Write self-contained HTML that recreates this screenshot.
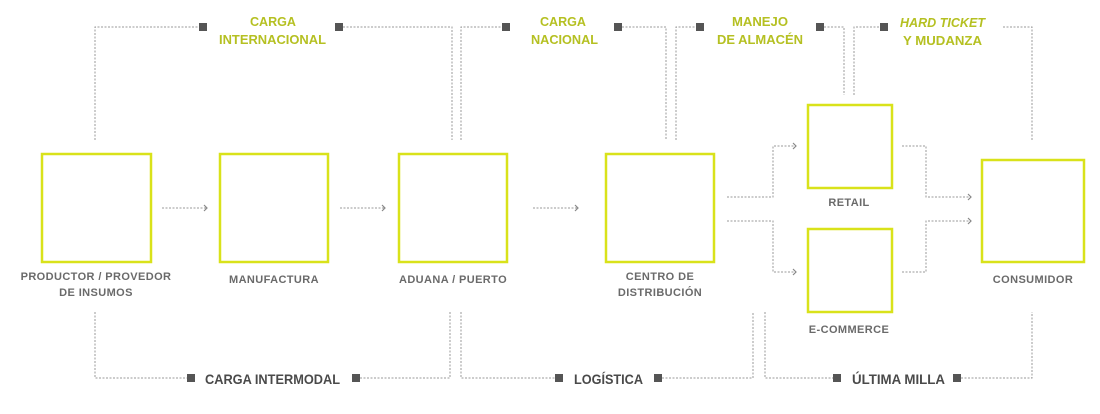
<!DOCTYPE html>
<html><head><meta charset="utf-8"><style>
html,body{margin:0;padding:0;background:#fff;}
svg{display:block;}
.b{fill:none;stroke:#d9e21a;stroke-width:2.5;}
.d{fill:none;stroke:#9a9a9a;stroke-width:1;stroke-dasharray:2 1.5;}
.a{fill:none;stroke:#888;stroke-width:1.2;}
.sq{fill:#555;}
.lb{font-family:"Liberation Sans",sans-serif;font-weight:bold;font-size:11px;fill:#6a6a6a;text-anchor:middle;letter-spacing:0.4px;}
.tg{font-family:"Liberation Sans",sans-serif;font-weight:bold;font-size:13px;fill:#b5c022;}
.bt{font-family:"Liberation Sans",sans-serif;font-weight:bold;font-size:14px;fill:#4a4a4a;}
</style></head><body>
<svg width="1100" height="414" viewBox="0 0 1100 414">
<rect class="b" x="42" y="154" width="109" height="108"/>
<rect class="b" x="220" y="154" width="108" height="108"/>
<rect class="b" x="399" y="154" width="108" height="108"/>
<rect class="b" x="606" y="154" width="108" height="108"/>
<rect class="b" x="808" y="105" width="84" height="83"/>
<rect class="b" x="808" y="229" width="84" height="83"/>
<rect class="b" x="982" y="160" width="102" height="102"/>
<text class="lb" x="96" y="280">PRODUCTOR / PROVEDOR</text>
<text class="lb" x="96" y="296">DE INSUMOS</text>
<text class="lb" x="274" y="283">MANUFACTURA</text>
<text class="lb" x="453" y="283">ADUANA / PUERTO</text>
<text class="lb" x="660" y="280">CENTRO DE</text>
<text class="lb" x="660" y="296">DISTRIBUCIÓN</text>
<text class="lb" x="849" y="206">RETAIL</text>
<text class="lb" x="849" y="333">E-COMMERCE</text>
<text class="lb" x="1033" y="283">CONSUMIDOR</text>
<path class="d" d="M162 208H207M340 208H385M533 208H578"/>
<path class="a" d="M204 205L207 208L204 211M382 205L385 208L382 211M575 205L578 208L575 211"/>
<path class="d" d="M727 197H773V146H796M727 221H773V272H796"/>
<path class="a" d="M793 143L796 146L793 149M793 269L796 272L793 275"/>
<path class="d" d="M902 146H926V197H971M902 272H926V221H971"/>
<path class="a" d="M968 194L971 197L968 200M968 218L971 221L968 224"/>
<!-- top -->
<path class="d" d="M95 140V27H199M343 27H452V140"/>
<rect class="sq" x="199" y="23" width="8" height="8"/><rect class="sq" x="335" y="23" width="8" height="8"/>
<text class="tg" x="250" y="26" textLength="46" lengthAdjust="spacingAndGlyphs">CARGA</text>
<text class="tg" x="219" y="44" textLength="107" lengthAdjust="spacingAndGlyphs">INTERNACIONAL</text>
<path class="d" d="M461 140V27H502M622 27H666V140"/>
<rect class="sq" x="502" y="23" width="8" height="8"/><rect class="sq" x="614" y="23" width="8" height="8"/>
<text class="tg" x="540" y="26" textLength="46" lengthAdjust="spacingAndGlyphs">CARGA</text>
<text class="tg" x="531" y="44" textLength="67" lengthAdjust="spacingAndGlyphs">NACIONAL</text>
<path class="d" d="M676 140V27H696M824 27H844V95"/>
<rect class="sq" x="696" y="23" width="8" height="8"/><rect class="sq" x="816" y="23" width="8" height="8"/>
<text class="tg" x="732" y="26" textLength="56" lengthAdjust="spacingAndGlyphs">MANEJO</text>
<text class="tg" x="717" y="44" textLength="86" lengthAdjust="spacingAndGlyphs">DE ALMACÉN</text>
<path class="d" d="M854 95V27H880M1003 27H1032V140"/>
<rect class="sq" x="880" y="23" width="8" height="8"/>
<text class="tg" x="900" y="27" font-style="italic" textLength="85" lengthAdjust="spacingAndGlyphs">HARD TICKET</text>
<text class="tg" x="903" y="45" textLength="79" lengthAdjust="spacingAndGlyphs">Y MUDANZA</text>
<!-- bottom -->
<path class="d" d="M95 312V378H187M360 378H450V312"/>
<rect class="sq" x="187" y="374" width="8" height="8"/><rect class="sq" x="352" y="374" width="8" height="8"/>
<text class="bt" x="205" y="384" textLength="135" lengthAdjust="spacingAndGlyphs">CARGA INTERMODAL</text>
<path class="d" d="M461 312V378H555M662 378H753V312"/>
<rect class="sq" x="555" y="374" width="8" height="8"/><rect class="sq" x="654" y="374" width="8" height="8"/>
<text class="bt" x="574" y="384" textLength="69" lengthAdjust="spacingAndGlyphs">LOGÍSTICA</text>
<path class="d" d="M765 312V378H833M961 378H1032V312"/>
<rect class="sq" x="833" y="374" width="8" height="8"/><rect class="sq" x="953" y="374" width="8" height="8"/>
<text class="bt" x="852" y="384" textLength="93" lengthAdjust="spacingAndGlyphs">ÚLTIMA MILLA</text>
</svg>
</body></html>
